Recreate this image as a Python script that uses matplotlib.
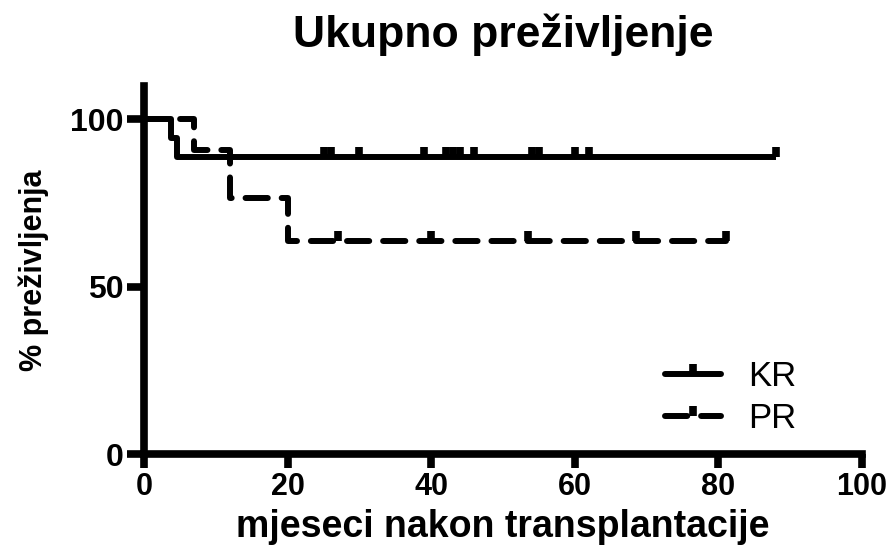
import numpy as np
import matplotlib
matplotlib.use("Agg")
import matplotlib.pyplot as plt
from matplotlib.lines import Line2D

plt.rcParams['font.family'] = ['Liberation Sans', 'DejaVu Sans']

# Kaplan-Meier steps (months, % survival)
kr_time = [0, 3.8, 4.6, 88]
kr_surv = [100, 94.4, 88.9, 88.9]
kr_censor = [25, 26, 30, 39, 42, 43, 44, 46, 54, 55, 60, 62, 88]

pr_time = [0, 7, 12, 20, 81]
pr_surv = [100, 90.9, 76.4, 63.6, 63.6]
pr_censor = [27, 40, 53.5, 68.5, 81]

xticks = [0, 20, 40, 60, 80, 100]
yticks = [0, 50, 100]


def level_at(t, times, surv):
    idx = np.searchsorted(times, t, side='right') - 1
    return np.array(surv)[idx]


# censor mark: short stub going up from the curve
tick = [(0, 0), (0, 1)]

fig = plt.figure(figsize=(8.93, 5.46), dpi=100)
ax = fig.add_axes([144/893, 1-454/546, (862-144)/893, (454-86)/546])

lw = 4.3
dash = (0, (16/lw, 10/lw))
ax.step(kr_time, kr_surv, where='post', color='k', lw=lw, solid_capstyle='butt')
ax.plot(kr_censor, level_at(kr_censor, kr_time, kr_surv), ls='none', marker=tick,
        ms=14, mew=5.5, color='k')

ax.step(pr_time, pr_surv, where='post', color='k', lw=lw, ls=dash, dash_capstyle='round')
ax.plot(pr_censor, level_at(pr_censor, pr_time, pr_surv), ls='none', marker=tick,
        ms=14, mew=5.5, color='k')

ax.set_xlim(0, 100)
ax.set_ylim(0, 110)
ax.set_xticks(xticks)
ax.set_yticks(yticks)
for s in ['top', 'right']:
    ax.spines[s].set_visible(False)
for s in ['left', 'bottom']:
    ax.spines[s].set_linewidth(5.5)
ax.tick_params(axis='y', length=12, width=5.5, pad=3, labelsize=23)
ax.tick_params(axis='x', length=10, width=5.5, pad=3, labelsize=22)
for lab in ax.get_xticklabels() + ax.get_yticklabels():
    lab.set_fontweight('bold')

ax.set_xlabel('mjeseci nakon transplantacije', fontsize=27, fontweight='bold', labelpad=5)
ax.set_ylabel('% preživljenja', fontsize=22, fontweight='bold', labelpad=15)
ax.set_title('Ukupno preživljenje', fontsize=32, fontweight='bold', pad=28)

handles = [Line2D([], [], color='k', lw=lw, marker=tick, ms=14, mew=5.5, solid_capstyle='round'),
           Line2D([], [], color='k', lw=lw, ls=dash, dash_capstyle='round',
                  marker=tick, ms=14, mew=5.5)]
ax.legend(handles, ['KR', 'PR'], loc='upper left', bbox_to_anchor=(665/893, 1-360/546),
          bbox_transform=fig.transFigure, frameon=False, fontsize=25, handlelength=1.6,
          handletextpad=0.8, borderpad=0, borderaxespad=0, labelspacing=0.25, numpoints=1)

fig.savefig('out.png', dpi=100)
